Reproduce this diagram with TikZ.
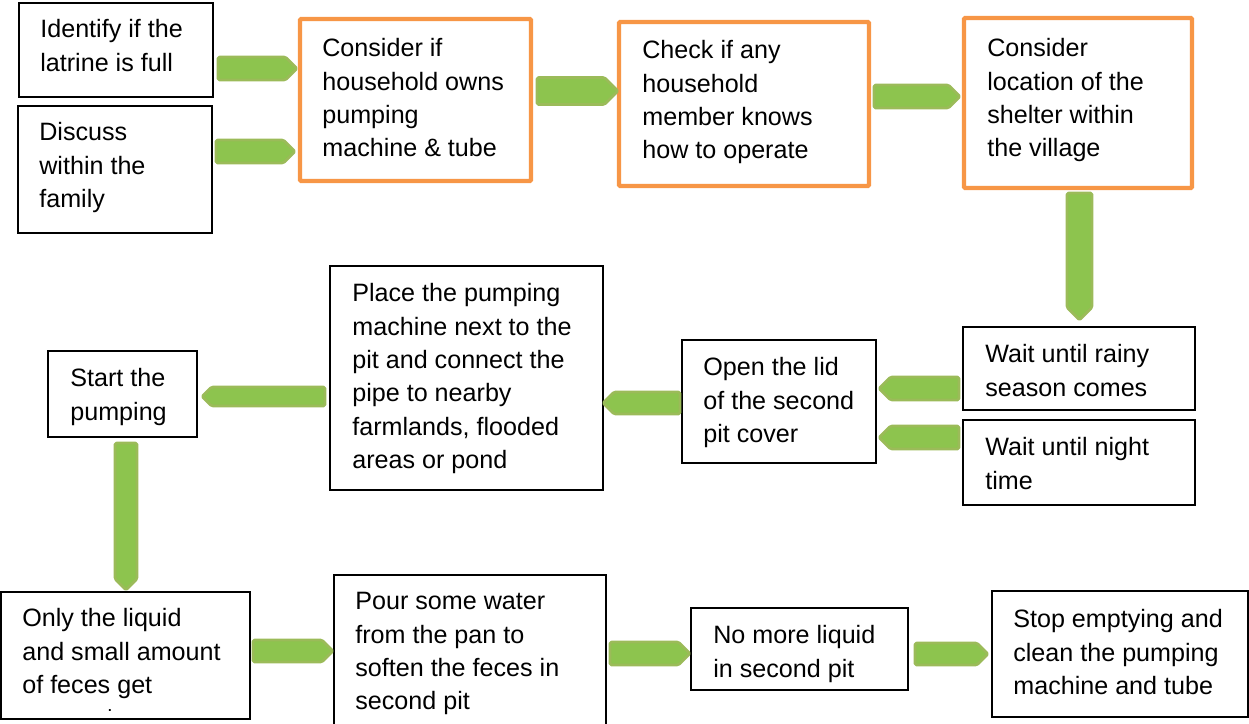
\documentclass[tikz,border=0pt]{standalone}
\usepackage{fontspec}
\setmainfont{Liberation Sans}
\usetikzlibrary{fit}
\definecolor{borange}{HTML}{F79646}
\definecolor{gfill}{HTML}{8DC44E}
\definecolor{gline}{HTML}{9BBB59}
\tikzset{
  bbox/.style={draw=black, line width=1.1pt, inner sep=0pt, fill=white},
  obox/.style={draw=borange, line width=2.4pt, inner sep=0pt, fill=white, rounded corners=0.6pt},
  txt/.style={anchor=north west, inner sep=0pt, align=left, font=\fontsize{14.3}{19}\selectfont, yshift=-0.03cm},
  garrow/.style={draw=gline, fill=gfill, line width=1.5pt, rounded corners=0.8pt, line join=round}
}
% green block arrow: name, cx, cy, length, width, angle (all in px units)
\newcommand\garr[6]{%
  \begin{scope}[shift={(#2,#3)}, rotate=#6]
    \draw[garrow] ({-#4/2},{-#5/2}) -- ({#4/2-#5/2},{-#5/2}) -- ({#4/2},0)
      -- ({#4/2-#5/2},{#5/2}) -- ({-#4/2},{#5/2}) -- cycle;
    \coordinate (#1) at (0,0);
  \end{scope}}
\begin{document}
\begin{tikzpicture}[x=0.02cm,y=-0.02cm]
\useasboundingbox (0,0) rectangle (1249,724);
% boxes
\node[bbox, fit={(19,3) (213,97)}] (b1) {};
\node[bbox, fit={(18,106) (212,233)}] (b2) {};
\node[obox, fit={(300,19) (531,181)}] (b3) {};
\node[obox, fit={(619,22) (869,186)}] (b4) {};
\node[obox, fit={(964,18) (1192,188)}] (b5) {};
\node[bbox, fit={(963,327) (1195,410)}] (b6) {};
\node[bbox, fit={(963,420) (1195,505)}] (b7) {};
\node[bbox, fit={(682,340) (876,463)}] (b8) {};
\node[bbox, fit={(330,266) (603,490)}] (b9) {};
\node[bbox, fit={(48,351) (197,437)}] (b10) {};
\node[bbox, fit={(1,592) (250,719)}] (b11) {};
\node[bbox, fit={(334,575) (606,740)}] (b12) {};
\node[bbox, fit={(691,608) (908,690)}] (b13) {};
\node[bbox, fit={(992,591) (1248,717)}] (b14) {};
% texts
\node[txt] (t1) at (40,12.6) {\strut Identify if the\\latrine is full};
\node[txt] (t2) at (39,115.6) {\strut Discuss\\within the\\family};
\node[txt] (t3) at (322,31.6) {\strut Consider if\\household owns\\pumping\\machine \& tube};
\node[txt] (t4) at (642,33.6) {\strut Check if any\\household\\member knows\\how to operate};
\node[txt] (t5) at (987,31.6) {\strut Consider\\location of the\\shelter within\\the village};
\node[txt] (t6) at (985,337.6) {\strut Wait until rainy\\season comes};
\node[txt] (t7) at (985,430.6) {\strut Wait until night\\time};
\node[txt] (t8) at (703,350.6) {\strut Open the lid\\of the second\\pit cover};
\node[txt] (t9) at (352,276.6) {\strut Place the pumping\\machine next to the\\pit and connect the\\pipe to nearby\\farmlands, flooded\\areas or pond};
\node[txt] (t10) at (70,361.6) {\strut Start the\\pumping};
\node[txt] (t11) at (22,601.6) {\strut Only the liquid\\and small amount\\of feces get};
\node[inner sep=0pt, anchor=base, font=\fontsize{7.5}{8}\bfseries] (dot) at (110,711) {.};
\node[txt] (t12) at (355,584.6) {\strut Pour some water\\from the pan to\\soften the feces in\\second pit};
\node[txt] (t13) at (713,618.6) {\strut No more liquid\\in second pit};
\node[txt] (t14) at (1013,602.6) {\strut Stop emptying and\\clean the pumping\\machine and tube};
% arrows
\garr{a1}{257.5}{68.5}{79}{23}{0}
\garr{a2}{255.5}{151.5}{79}{23}{0}
\garr{a3}{577.5}{91}{81}{27}{0}
\garr{a4}{917}{96.5}{86}{23}{0}
\garr{a5}{1079.5}{256.5}{127}{25}{-90}
\garr{a6}{919}{388.5}{80}{23}{180}
\garr{a7}{919}{437.5}{80}{23}{180}
\garr{a8}{641.5}{403}{77}{22}{180}
\garr{a9}{263.5}{396.5}{123}{19}{180}
\garr{a10}{126}{516.5}{147}{22}{-90}
\garr{a11}{293}{651}{80}{22}{0}
\garr{a12}{650}{653.5}{80}{23}{0}
\garr{a13}{951.5}{654}{73}{22}{0}
\end{tikzpicture}
\end{document}
